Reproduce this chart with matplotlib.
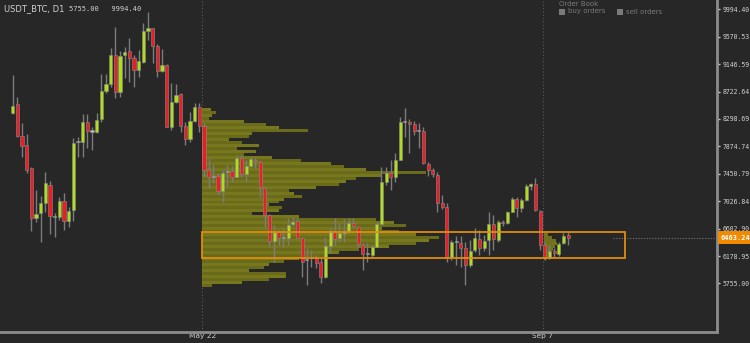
import matplotlib.pyplot as plt
from matplotlib.patches import Rectangle
import numpy as np

# daily candles
opens = [8395, 8530, 8040, 7896, 7541, 6763, 6840, 6995, 7278, 6783,
         6788, 7030, 6721, 6891, 7938, 7948, 8257, 8117, 8092, 8293,
         8731, 8840, 9288, 8721, 9288, 9350, 9236, 9056, 9175, 9659,
         9705, 9432, 9045, 9128, 8179, 8566, 8680, 8190, 7984, 8273,
         8489, 8190, 7510, 7407, 7417, 7190, 7479, 7499, 7407, 7700,
         7448, 7572, 7669, 7633, 7236, 6814, 6417, 6556, 6458, 6453,
         6675, 6721, 6464, 6118, 6144, 6154, 6082, 5851, 6340, 6571,
         6453, 6546, 6556, 6690, 6624, 6350, 6211, 6196, 6324, 6675,
         7329, 7469, 7397, 7664, 8262, 8257, 8221, 8117, 8113, 7602,
         7510, 7433, 6995, 6933, 6170, 6402, 6376, 6299, 6041, 6273,
         6443, 6308, 6428, 6670, 6428, 6711, 6686, 6865, 7057, 6918,
         7046, 7267, 7298, 6880, 6350, 6144, 6257, 6211, 6376, 6500]
highs = [8979, 8634, 8232, 8066, 7556, 7201, 7108, 7484, 7340, 6840,
         7088, 7159, 6942, 8000, 8025, 8376, 8376, 8179, 8386, 8994,
         8994, 9391, 9725, 9354, 9416, 9546, 9288, 9365, 9787, 9957,
         9712, 9458, 9381, 9144, 8850, 8834, 8705, 8257, 8401, 8541,
         8541, 8232, 7690, 7587, 7459, 7510, 7587, 7572, 7741, 7741,
         7664, 7715, 7715, 7664, 7252, 6829, 6660, 6582, 6608, 6772,
         6788, 6763, 6479, 6299, 6273, 6196, 6144, 6479, 6633, 6763,
         6690, 6752, 6763, 6763, 6644, 6376, 6376, 6350, 6711, 7561,
         7561, 7664, 7767, 8334, 8463, 8293, 8273, 8232, 8170, 7638,
         7536, 7484, 7123, 6995, 6428, 6489, 6489, 6402, 6428, 6608,
         6582, 6505, 6865, 6814, 6737, 6737, 6880, 7088, 7088, 7072,
         7293, 7314, 7381, 6891, 6402, 6350, 6299, 6402, 6540, 6556]
lows = [8383, 8025, 7715, 7464, 6567, 6701, 6402, 6865, 6520, 6479,
        6737, 6582, 6633, 6726, 7715, 7715, 7845, 7819, 8085, 8257,
        8695, 8798, 8628, 8643, 8927, 8875, 8798, 8943, 9159, 9520,
        9159, 8953, 9030, 8175, 8128, 8541, 8102, 7896, 7948, 8257,
        8102, 7407, 7227, 7304, 7123, 7020, 7242, 7329, 7397, 7397,
        7329, 7551, 7536, 7097, 6608, 6324, 6092, 6350, 6324, 6350,
        6644, 6453, 5860, 5732, 6015, 5990, 5758, 5835, 6222, 6350,
        6402, 6402, 6531, 6624, 6324, 5964, 6092, 6170, 6320, 6670,
        7278, 7201, 7329, 7660, 8025, 7777, 8051, 7845, 7602, 7417,
        7407, 6865, 6902, 6092, 6118, 6041, 6015, 5732, 6015, 6247,
        6196, 6258, 6196, 6273, 6402, 6644, 6675, 6856, 6788, 6865,
        7035, 7201, 6880, 6273, 6118, 6129, 6160, 6180, 6366, 6350]
closes = [8499, 8040, 7886, 7510, 6763, 6829, 6995, 7304, 6803, 6803,
          7030, 6721, 6880, 7932, 7948, 8257, 8117, 8108, 8283, 8731,
          8840, 9288, 8721, 9277, 9339, 9236, 9056, 9195, 9659, 9705,
          9432, 9045, 9128, 8179, 8556, 8669, 8190, 7984, 8268, 8489,
          8190, 7510, 7397, 7417, 7190, 7459, 7487, 7407, 7690, 7448,
          7572, 7675, 7644, 7242, 6814, 6417, 6556, 6453, 6466, 6660,
          6711, 6464, 6092, 6126, 6170, 6077, 5851, 6340, 6571, 6438,
          6540, 6551, 6686, 6644, 6366, 6211, 6219, 6324, 6675, 7329,
          7469, 7397, 7664, 8257, 8268, 8221, 8117, 8123, 7613, 7510,
          7448, 6995, 6933, 6170, 6402, 6408, 6308, 6041, 6257, 6453,
          6304, 6417, 6675, 6438, 6711, 6686, 6856, 7057, 6927, 7046,
          7262, 7298, 6891, 6350, 6144, 6262, 6231, 6366, 6489, 6463.24]

# volume profile (top to bottom) between these prices
profile_top = 8468
profile_bottom = 5700
profile_vol = [9, 14, 10, 7, 42, 64, 77, 106, 50, 47,
               27, 40, 57, 35, 54, 42, 70, 99, 129, 142,
               164, 224, 180, 154, 144, 137, 114, 87, 92, 100,
               82, 77, 67, 80, 77, 50, 97, 174, 192, 204,
               180, 197, 214, 237, 227, 214, 187, 157, 137, 124,
               97, 82, 67, 62, 47, 84, 84, 67, 40, 10]
# small developing profile at the end
recent_top = 6530
recent_bottom = 6118
recent_vol = [4, 8, 12, 13, 11, 9, 6, 4, 2]

value_area = (6144.6, 6555.8)
last_price = 6463.24
price_ticks = [9994.40, 9570.53, 9146.59, 8722.64, 8298.69, 7874.74,
               7450.79, 7026.84, 6602.90, 6178.95, 5755.00]
date_ticks = [40.6, 113.6]
date_labels = ["May 22", "Sep 7"]

bg = "#272727"
green = "#b0dc1c"
red = "#ee1d23"
olive = "#86861c"
orange = "#e08c0c"

fig = plt.figure(figsize=(7.5, 3.43), dpi=100, facecolor=bg)
ax = fig.add_axes([0, 11 / 343, 716.7 / 750, 332 / 343], facecolor=bg)
ax.set_xlim(-2.72, 150.85)
ax.set_ylim(5005, 10138)

px = 1 / 4.667  # one pixel in candle units

# volume profile
n = len(profile_vol)
h = (profile_top - profile_bottom) / n
centers = profile_top - h * (np.arange(n) + 0.5)
shades = [olive if k % 2 == 0 else "#76761a" for k in range(n)]
ax.barh(centers, np.array(profile_vol) * px, height=h, left=date_ticks[0],
        color=shades, alpha=0.85, zorder=1)

m = len(recent_vol)
h2 = (recent_top - recent_bottom) / m
centers2 = recent_top - h2 * (np.arange(m) + 0.5)
ax.barh(centers2, np.array(recent_vol) * px, height=h2, left=date_ticks[1] + 0.2,
        color=olive, alpha=0.8, zorder=1)

# value area box
ax.add_patch(Rectangle((date_ticks[0], value_area[0]), 131.2 - date_ticks[0],
                       value_area[1] - value_area[0], fill=False,
                       edgecolor=orange, lw=1.3, zorder=4))

# date grid lines
for d in date_ticks:
    ax.axvline(d, color="#5a5a5a", ls=(0, (1, 2)), lw=0.8, zorder=0)

# candles
idx = np.arange(len(opens))
ax.vlines(idx, lows, highs, color="#7c7c7c", lw=1, zorder=2)
for i in idx:
    o, c = opens[i], closes[i]
    lo, size = min(o, c), abs(c - o)
    if size < 15:
        col = "#c8c8c8"
        lo, size = (o + c) / 2 - 8, 16
    else:
        col = green if c > o else red
    ax.bar(i, size, bottom=lo, width=0.66, color=col, edgecolor="#8a8a8a",
           lw=0.4, zorder=3)

# last price line and label
ax.hlines(last_price, 128.6, 150.85, color="#777777", ls=(0, (1, 1.5)), lw=0.8)
ytr = ax.get_yaxis_transform()
ax.add_patch(Rectangle((1.0025, last_price - 6.5 * 15.46), 33 / 716.7, 13 * 15.46,
                       transform=ytr, fc="#f08a00", ec="none", clip_on=False, zorder=9))
ax.text(1.0025 + 16.5 / 716.7, last_price, f"{last_price:.2f}", transform=ytr,
        ha="center", va="center", color="white", fontsize=5, fontweight="bold",
        family="DejaVu Sans Mono", clip_on=False, zorder=10)

# axes styling
for s in ("top", "left"):
    ax.spines[s].set_visible(False)
for s in ("right", "bottom"):
    ax.spines[s].set_color("#8c8c8c")
    ax.spines[s].set_linewidth(2)
ax.yaxis.tick_right()
ax.set_yticks(price_ticks)
ax.set_yticklabels([f"{v:.2f}" for v in price_ticks], family="DejaVu Sans Mono")
ax.tick_params(axis="y", colors="#cfcfcf", labelsize=4.7, length=2.5, width=1, pad=1.5)
ax.set_xticks(date_ticks)
ax.set_xticklabels(date_labels)
ax.tick_params(axis="x", colors="#cfcfcf", labelsize=5.3, length=0, pad=1)

# header texts
fig.text(4 / 750, 1 - 9 / 343, "USDT_BTC, D1", color="#d0d0d0", fontsize=6, va="center")
fig.text(69 / 750, 1 - 9 / 343, "5755.00   9994.40", color="#d0d0d0", fontsize=5,
         va="center", family="DejaVu Sans Mono")
fig.text(559 / 750, 1 - 4.5 / 343, "Order Book", color="#7a7a7a", fontsize=5, va="center")
fig.patches.append(Rectangle((559 / 750, 1 - 14.5 / 343), 5.5 / 750, 5.5 / 343,
                             transform=fig.transFigure, fc="#7a7a7a", ec="none"))
fig.text(568 / 750, 1 - 11.5 / 343, "buy orders", color="#7a7a7a", fontsize=5, va="center")
fig.patches.append(Rectangle((617 / 750, 1 - 14.5 / 343), 5.5 / 750, 5.5 / 343,
                             transform=fig.transFigure, fc="#7a7a7a", ec="none"))
fig.text(626 / 750, 1 - 11.5 / 343, "sell orders", color="#7a7a7a", fontsize=5, va="center")

fig.savefig("out.png", dpi=100, facecolor=bg)
